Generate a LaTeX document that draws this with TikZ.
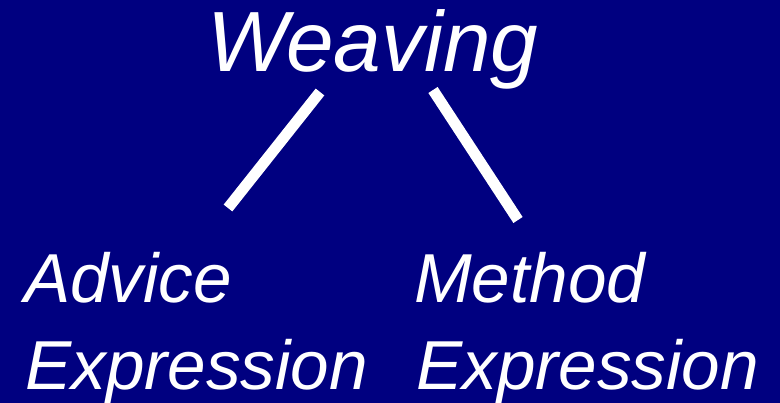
\documentclass[tikz,border=0pt]{standalone}
\usepackage{fontspec}
\setmainfont{Liberation Sans}
\definecolor{navybg}{HTML}{000080}
\begin{document}
\begin{tikzpicture}[x=1pt,y=1pt,
  big/.style={anchor=base west,inner sep=0pt,text=white,font=\fontsize{85.5}{85.5}\selectfont\itshape},
  small/.style={anchor=base west,inner sep=0pt,text=white,font=\fontsize{69.3}{69.3}\selectfont\itshape},
  branch/.style={draw=white,line width=11pt}]
\fill[navybg] (0,0) rectangle (780,403);
\useasboundingbox (0,0) rectangle (780,403);
\node[big] (weaving) at (207,331) {Weaving};
\node[small] (advice) at (24,100) {Advice};
\node[small] (advexp) at (25,13) {Expression};
\node[small] (method) at (414,100) {Method};
\node[small] (methexp) at (416,13) {Expression};
\coordinate (l1) at (320,311);
\coordinate (l2) at (228,195);
\coordinate (r1) at (433,313);
\coordinate (r2) at (518,183);
\draw[branch] (l1) -- (l2);
\draw[branch] (r1) -- (r2);
\end{tikzpicture}
\end{document}
